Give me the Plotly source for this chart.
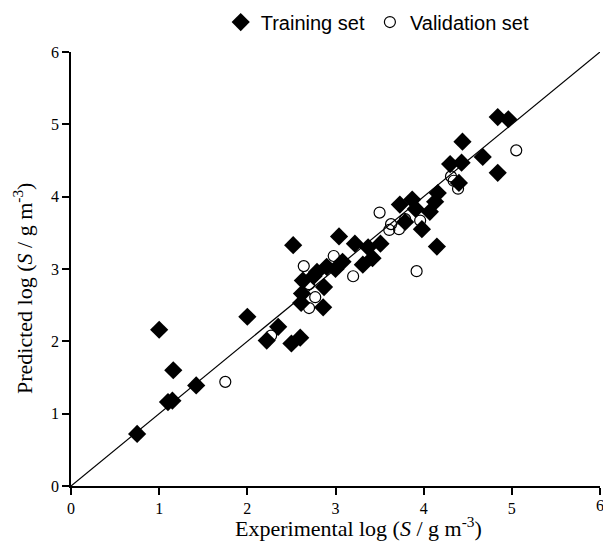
import plotly.graph_objects as go

train_x = [0.75, 1.00, 1.10, 1.15, 1.16, 1.42, 2.00, 2.22, 2.35, 2.50, 2.60, 2.52, 2.61, 2.62,
           2.63, 2.75, 2.79, 2.86, 2.87, 2.90, 3.00, 3.04, 3.08, 3.22, 3.31, 3.37, 3.42, 3.51,
           3.73, 3.79, 3.87, 3.91, 3.98, 4.07, 4.13, 4.15, 4.16, 4.30, 4.40, 4.43, 4.44, 4.67,
           4.84, 4.84, 4.96]
train_y = [0.72, 2.16, 1.16, 1.18, 1.60, 1.39, 2.34, 2.01, 2.20, 1.97, 2.05, 3.33, 2.53, 2.66,
           2.84, 2.90, 2.96, 2.47, 2.75, 3.03, 3.00, 3.45, 3.10, 3.35, 3.06, 3.30, 3.15, 3.35,
           3.89, 3.65, 3.96, 3.83, 3.55, 3.79, 3.93, 3.31, 4.05, 4.45, 4.19, 4.47, 4.76, 4.55,
           4.33, 5.10, 5.07]

valid_x = [1.75, 2.27, 2.64, 2.70, 2.77, 2.70, 2.98, 3.20, 3.50, 3.63, 3.61, 3.72, 3.79,
           3.96, 3.92, 4.31, 4.34, 4.39, 5.05]
valid_y = [1.44, 2.08, 3.04, 2.79, 2.61, 2.46, 3.18, 2.90, 3.78, 3.62, 3.54, 3.55, 3.69,
           3.67, 2.97, 4.28, 4.22, 4.11, 4.64]

line_x = [0, 6]
line_y = [0, 6]

x_title = "Experimental log (<i>S</i> / g m<sup>-3</sup>)"
y_title = "Predicted log (<i>S</i> / g m<sup>-3</sup>)"

fig = go.Figure()
fig.add_trace(go.Scatter(x=line_x, y=line_y, mode="lines", line=dict(color="black", width=1.2),
                         showlegend=False, hoverinfo="skip", cliponaxis=False))
fig.add_trace(go.Scatter(x=train_x, y=train_y, mode="markers", name="Training set",
                         marker=dict(symbol="diamond", size=14, color="black",
                                     line=dict(width=0))))
fig.add_trace(go.Scatter(x=valid_x, y=valid_y, mode="markers", name="Validation set",
                         marker=dict(symbol="circle-open", size=11, color="black",
                                     line=dict(width=1.2, color="black"))))

axis_common = dict(range=[0, 6], dtick=1, showgrid=False, zeroline=False, showline=True,
                   linecolor="black", linewidth=1.5, ticks="outside", ticklen=7, tickwidth=1.5,
                   tickcolor="black", mirror=False, automargin=False,
                   tickfont=dict(family="Liberation Serif", size=16, color="black"))

title_font = dict(family="Liberation Serif", size=22, color="black")

fig.update_layout(
    width=603, height=542,
    margin=dict(l=71, r=3, t=52, b=56, autoexpand=False),
    paper_bgcolor="white", plot_bgcolor="white",
    xaxis=dict(**axis_common),
    yaxis=dict(**axis_common),
    legend=dict(orientation="h", x=0.283, y=1.069, xanchor="left", yanchor="middle",
                font=dict(family="Liberation Sans", size=20, color="black"),
                bgcolor="rgba(0,0,0,0)", itemwidth=30),
    showlegend=True,
    annotations=[
        dict(text=x_title, xref="paper", yref="paper", x=(358 - 71) / 529, y=-(527 - 486) / 434,
             xanchor="center", yanchor="middle", showarrow=False, font=title_font),
        dict(text=y_title, xref="paper", yref="paper", x=-(71 - 23) / 529, y=(486 - 289) / 434,
             xanchor="center", yanchor="middle", showarrow=False, textangle=-90, font=title_font),
        dict(text="6", xref="x", yref="paper", x=6, y=-(505 - 486) / 434,
             xanchor="center", yanchor="middle", showarrow=False,
             font=dict(family="Liberation Serif", size=16, color="black")),
    ],
)

fig.write_html("out.html", config={"displayModeBar": False},
               post_script="document.body.style.margin='0';document.body.style.overflow='hidden';")
